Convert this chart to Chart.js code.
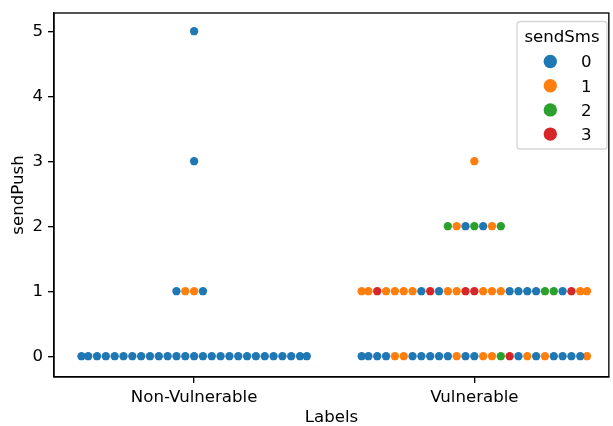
<!DOCTYPE html>
<html>
<head>
  <title>sendPush by Labels</title>
  <script src="https://cdn.jsdelivr.net/npm/chart.js"></script>
  <style>
    body { margin: 0; background: #fff; }
  </style>
</head>
<body>
  <canvas id="swarm" width="613" height="426"></canvas>

  <script>
    const categories = ['Non-Vulnerable', 'Vulnerable'];
    const smsLevels = [0, 1, 2, 3];
    const smsColors = ['#1f77b4', '#ff7f0e', '#2ca02c', '#d62728'];
    const yTicks = [0, 1, 2, 3, 4, 5];

    // sendSms value of every point, left to right, one row per sendPush value
    const nonVulnPush0 = [0, 0, 0, 0, 0, 0, 0, 0, 0, 0, 0, 0, 0, 0, 0, 0, 0, 0, 0, 0, 0, 0, 0, 0, 0, 0, 0];
    const nonVulnPush1 = [0, 1, 1, 0];
    const nonVulnPush3 = [0];
    const nonVulnPush5 = [0];
    const vulnPush0 = [0, 0, 0, 0, 1, 1, 0, 0, 0, 0, 0, 1, 0, 0, 1, 1, 2, 3, 0, 1, 0, 1, 0, 0, 0, 0, 1];
    const vulnPush1 = [1, 1, 3, 1, 1, 1, 1, 0, 3, 0, 1, 1, 3, 3, 1, 1, 1, 0, 0, 0, 0, 2, 2, 0, 3, 1, 1];
    const vulnPush2 = [2, 1, 0, 2, 0, 1, 2];
    const vulnPush3 = [1];

    // [category index, sendPush, points]
    const rows = [
      [0, 0, nonVulnPush0], [0, 1, nonVulnPush1], [0, 3, nonVulnPush3], [0, 5, nonVulnPush5],
      [1, 0, vulnPush0], [1, 1, vulnPush1], [1, 2, vulnPush2], [1, 3, vulnPush3]
    ];

    // swarm spacing and half width of a category, in x units
    const swarmStep = 0.0315;
    const gutter = 0.402;

    const datasets = smsLevels.map((level, k) => {
      const pts = [];
      rows.forEach(([cat, push, sms]) => {
        const mid = Math.floor(sms.length / 2);
        sms.forEach((s, i) => {
          if (s !== level) return;
          let off = (i - mid) * swarmStep;
          off = Math.max(-gutter, Math.min(gutter, off));
          pts.push({ x: cat + off, y: push });
        });
      });
      return {
        label: String(level),
        data: pts,
        backgroundColor: smsColors[k],
        pointRadius: 4.15,
        pointBorderWidth: 0,
        pointHoverRadius: 4.15
      };
    });

    const font = { family: 'DejaVu Sans', size: 16.6 };
    const lw = 1.33;

    // top and right spines
    const framePlugin = {
      id: 'frame',
      afterDatasetsDraw(chart) {
        const a = chart.chartArea, ctx = chart.ctx;
        ctx.save();
        ctx.strokeStyle = '#000';
        ctx.lineWidth = lw;
        ctx.strokeRect(a.left, a.top, a.right - a.left, a.bottom - a.top);
        ctx.restore();
      }
    };

    // matplotlib style legend box in the upper right corner
    const legendPlugin = {
      id: 'swarmLegend',
      afterDraw(chart) {
        const ctx = chart.ctx;
        const x0 = 517, y0 = 21.5, w = 90, h = 127.5, r = 3;
        ctx.save();
        ctx.beginPath();
        ctx.roundRect(x0, y0, w, h, r);
        ctx.fillStyle = 'rgba(255,255,255,0.8)';
        ctx.fill();
        ctx.strokeStyle = 'rgba(204,204,204,0.8)';
        ctx.lineWidth = 1.3;
        ctx.stroke();

        ctx.fillStyle = '#000';
        ctx.font = font.size + 'px "' + font.family + '"';
        ctx.textAlign = 'center';
        ctx.textBaseline = 'alphabetic';
        ctx.fillText('sendSms', 562, 41.7);

        chart.data.datasets.forEach((ds, i) => {
          const cy = 61.5 + i * 24.2;
          ctx.beginPath();
          ctx.arc(550.3, cy, 6.7, 0, Math.PI * 2);
          ctx.fillStyle = ds.backgroundColor;
          ctx.fill();
          ctx.fillStyle = '#000';
          ctx.textAlign = 'left';
          ctx.fillText(ds.label, 581, cy + 5.8);
        });
        ctx.restore();
      }
    };

    // keep the plot box where matplotlib put it
    function noPad(scale) {
      scale.paddingTop = 0;
      scale.paddingBottom = 0;
      scale.paddingLeft = 0;
      scale.paddingRight = 0;
    }

    new Chart(document.getElementById('swarm'), {
      type: 'scatter',
      data: { datasets },
      options: {
        responsive: false,
        animation: false,
        events: [],
        layout: { padding: { top: 13, right: 4, left: 0, bottom: 0 } },
        plugins: { legend: { display: false }, tooltip: { enabled: false } },
        scales: {
          x: {
            type: 'linear',
            min: -0.5,
            max: 1.48,
            afterBuildTicks(scale) { scale.ticks = categories.map((c, i) => ({ value: i })); },
            afterFit(scale) { scale.height = 49; noPad(scale); },
            ticks: {
              callback: v => categories[v],
              color: '#000',
              font,
              padding: 5,
              maxRotation: 0
            },
            grid: { drawOnChartArea: false, tickLength: 6, color: '#000', lineWidth: lw },
            border: { color: '#000', width: lw },
            title: {
              display: true,
              text: 'Labels',
              color: '#000',
              font: { family: font.family, size: font.size, lineHeight: 1 },
              padding: 0
            }
          },
          y: {
            type: 'linear',
            min: -0.32,
            max: 5.28,
            afterBuildTicks(scale) { scale.ticks = yTicks.map(v => ({ value: v })); },
            afterFit(scale) { scale.width = 54; noPad(scale); },
            ticks: { color: '#000', font, padding: 5 },
            grid: { drawOnChartArea: false, tickLength: 6, color: '#000', lineWidth: lw },
            border: { color: '#000', width: lw },
            title: {
              display: true,
              text: 'sendPush',
              color: '#000',
              font: { family: font.family, size: font.size, lineHeight: 1 },
              padding: { top: 10, bottom: 0 }
            }
          }
        }
      },
      plugins: [framePlugin, legendPlugin]
    });
  </script>
</body>
</html>
